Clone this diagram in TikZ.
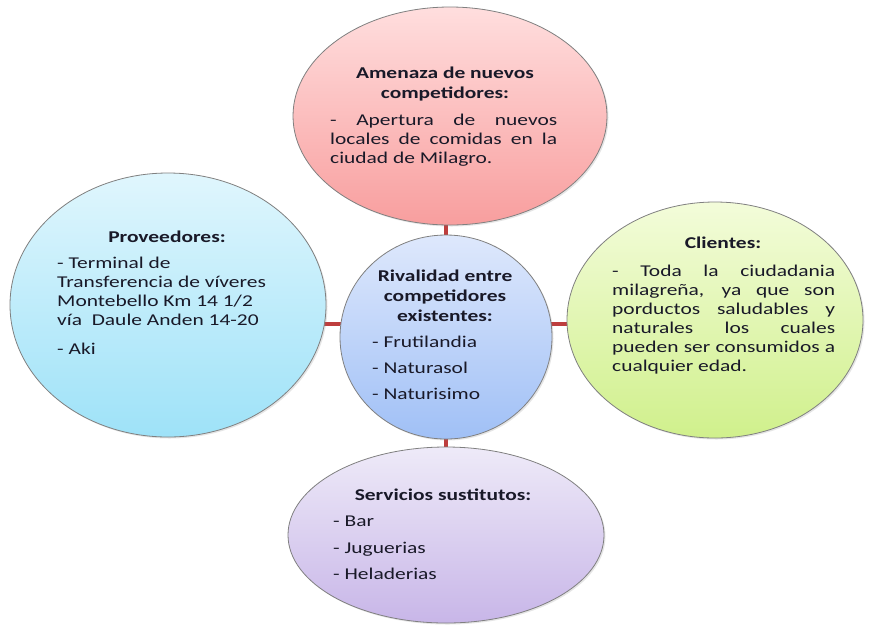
\documentclass[tikz,border=0pt]{standalone}
\usepackage{fontspec}
\setmainfont{Carlito}[FakeStretch=1.3]
\usetikzlibrary{shapes.geometric,backgrounds,shadows}
\definecolor{txt}{RGB}{25,25,40}
\definecolor{pinkT}{RGB}{255,222,222}
\definecolor{pinkB}{RGB}{248,158,158}
\definecolor{cyanT}{RGB}{224,246,253}
\definecolor{cyanB}{RGB}{158,226,248}
\definecolor{blueT}{RGB}{222,232,252}
\definecolor{blueB}{RGB}{160,192,246}
\definecolor{greenT}{RGB}{243,252,218}
\definecolor{greenB}{RGB}{208,240,140}
\definecolor{purpT}{RGB}{238,234,248}
\definecolor{purpB}{RGB}{200,182,232}
\definecolor{connc}{RGB}{190,62,62}
\newcommand\jline[2]{\makebox[#1][s]{#2}}
\begin{document}
\begin{tikzpicture}[x=1pt,y=-1pt,
  bubble/.style={ellipse, draw=black!50, line width=0.8pt, inner sep=0pt,
    drop shadow={shadow xshift=1.5pt, shadow yshift=-1.5pt, opacity=0.2}},
  conn/.style={draw=connc, line width=4.5pt},
  ttl/.style={font=\fontsize{16.5}{20}\selectfont\bfseries, align=center, inner sep=0pt, text=txt, anchor=north},
  body/.style={font=\fontsize{16.5}{19}\selectfont, align=left, inner sep=0pt, text=txt, anchor=north west}]
\useasboundingbox (0,0) rectangle (869,625);
\begin{scope}[on background layer]
\fill[white] (0,0) rectangle (869,625);
\end{scope}
% bubbles
\node[bubble, top color=pinkT, bottom color=pinkB, minimum width=314pt, minimum height=218pt] (amen) at (450,116) {};
\node[bubble, top color=cyanT, bottom color=cyanB, minimum width=316pt, minimum height=264pt] (prov) at (168,305) {};
\node[bubble, top color=blueT, bottom color=blueB, minimum width=212pt, minimum height=204pt] (riv) at (446,337) {};
\node[bubble, top color=greenT, bottom color=greenB, minimum width=296pt, minimum height=236pt] (cli) at (715,320) {};
\node[bubble, top color=purpT, bottom color=purpB, minimum width=316pt, minimum height=176pt] (sust) at (446,535) {};
% connectors
\coordinate (lc) at ([yshift=13pt]riv.center);
\begin{scope}[on background layer]
\draw[conn] (riv.center) -- (riv.center |- amen.center);
\draw[conn] (riv.center) -- (riv.center |- sust.center);
\draw[conn] (lc) -- (lc -| prov.center);
\draw[conn] (lc) -- (lc -| cli.center);
\end{scope}
% texts
\node[ttl] (amenT) at (445,67) {Amenaza de nuevos\\competidores:};
\node[body] (amenB) at (330,114) {\jline{227pt}{- Apertura de nuevos}\\\jline{227pt}{locales de comidas en la}\\ciudad de Milagro.};
\node[ttl] (provT) at (167,231) {Proveedores:};
\node[body] (provB) at (57,257) {- Terminal de\\Transferencia de víveres\\Montebello Km 14 1/2\\vía\ \ Daule Anden 14-20\\[10pt]- Aki};
\node[ttl] (rivT) at (445,270) {Rivalidad entre\\competidores\\existentes:};
\node[body] (rivB) at (372,336) {- Frutilandia\\[7pt]- Naturasol\\[7pt]- Naturisimo};
\node[ttl] (cliT) at (723,237) {Clientes:};
\node[body] (cliB) at (612,265) {\jline{223pt}{- Toda la ciudadania}\\\jline{223pt}{milagreña, ya que son}\\\jline{223pt}{porductos saludables y}\\\jline{223pt}{naturales los cuales}\\\jline{223pt}{pueden ser consumidos a}\\cualquier edad.};
\node[ttl] (sustT) at (443,489) {Servicios sustitutos:};
\node[body] (sustB) at (333,516) {- Bar\\[7.5pt]- Juguerias\\[7.5pt]- Heladerias};
\end{tikzpicture}
\end{document}
